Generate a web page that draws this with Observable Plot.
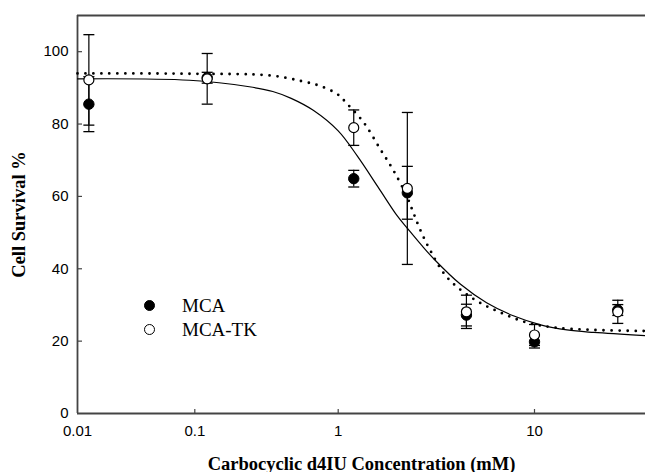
<!DOCTYPE html>
<html>
<head>
<meta charset="utf-8">
<script src="https://cdn.jsdelivr.net/npm/d3@7"></script>
<script src="https://cdn.jsdelivr.net/npm/@observablehq/plot@0.6"></script>
<style>
  html, body { margin: 0; padding: 0; background: #fff; }
  #wrap { position: relative; width: 645px; height: 472px; overflow: hidden; }
  .leg { position: absolute; font-family: "Liberation Serif", "Times New Roman", serif; font-size: 19px; color: #000; line-height: 1; }
  .sw { position: absolute; width: 11px; height: 11px; border-radius: 50%; box-sizing: border-box; border: 1.2px solid #000; }
</style>
</head>
<body>
<div id="wrap"></div>
<script>
// Concentrations (mM) of the measured points
const conc = [0.0125, 0.122, 1.2, 2.25, 4.5, 10, 28.3];
// MCA (filled circles)
const mcaY = [85.5, 92.8, 64.9, 61.0, 27.2, 19.8, 28.6];
const mcaErr = [7.6, 1.5, 2.3, 7.3, 3.0, 1.7, 1.5];
// MCA-TK (open circles)
const tkY = [92.2, 92.5, 79.0, 62.2, 28.1, 21.7, 28.1];
const tkErr = [12.5, 7.0, 4.9, 21.0, 4.6, 2.9, 3.2];
// Fitted curves
const solidX = [0.01, 0.09, 0.24, 0.35, 0.47, 0.67, 1.0, 1.25, 1.6, 2.0, 2.25, 2.65, 3.1, 4.2, 5.7, 7.8, 10.8, 15, 21, 40];
const solidY = [92.5, 92.1, 90.3, 89.0, 87.1, 83.8, 78.1, 71.2, 62.5, 54.6, 51.2, 46.6, 42.5, 35.7, 30.6, 27.0, 24.5, 23.1, 22.4, 21.5];
const dotX = [0.01, 0.09, 0.34, 0.55, 0.75, 0.99, 1.11, 1.35, 1.64, 1.92, 2.25, 2.43, 2.63, 2.95, 3.59, 4.91, 6.71, 9.18, 12.7, 21, 40];
const dotY = [94.0, 93.9, 93.4, 91.9, 90.5, 88.2, 85.6, 80.4, 73.0, 67.0, 59.7, 55.1, 50.5, 45.0, 37.6, 31.6, 27.9, 25.1, 23.8, 23.1, 22.8];
// Axis ticks
const xTicks = [0.01, 0.1, 1, 10];
const xTickLabels = ["0.01", "0.1", "1", "10"];
const yTicks = [0, 20, 40, 60, 80, 100];
const seriesNames = ["MCA", "MCA-TK"];
const xTitle = "Carbocyclic d4IU Concentration (mM)";
const yTitle = "Cell Survival %";

const mca = conc.map((c, i) => ({x: c, y: mcaY[i], lo: mcaY[i] - mcaErr[i], hi: mcaY[i] + mcaErr[i]}));
const tk = conc.map((c, i) => ({x: c, y: tkY[i], lo: tkY[i] - tkErr[i], hi: tkY[i] + tkErr[i]}));
const solid = solidX.map((x, i) => ({x, y: solidY[i]}));
const dotted = dotX.map((x, i) => ({x, y: dotY[i]}));
const bars = [...mca, ...tk];
const caps = bars.flatMap(d => [{x: d.x, y: d.lo}, {x: d.x, y: d.hi}]);
const xTickRows = xTicks.map((v, i) => ({x: v, label: xTickLabels[i]}));

const capSymbol = {draw(ctx) { ctx.moveTo(-5.5, 0); ctx.lineTo(5.5, 0); }};
const yTickSymbol = {draw(ctx) { ctx.moveTo(0, 0); ctx.lineTo(4.5, 0); }};
const xTickSymbol = {draw(ctx) { ctx.moveTo(0, 0); ctx.lineTo(0, -4.5); }};

const axisColor = "#444";
const serif = "'Liberation Serif', 'Times New Roman', serif";
const sans = "'Liberation Sans', Arial, sans-serif";

const chart = Plot.plot({
  width: 645,
  height: 472,
  marginLeft: 77,
  marginRight: 0,
  marginTop: 15,
  marginBottom: 59,
  style: {fontFamily: sans, fontSize: "15px", color: "#000", background: "#fff"},
  x: {type: "log", domain: [0.01, 0.1, 1, 10, 40], range: [77, 194.3, 337.7, 534, 645], axis: null},
  y: {domain: [0, 110]},
  marks: [
    Plot.axisY({ticks: yTicks, tickSize: 0, tickPadding: 9, label: null}),
    Plot.text(xTickRows, {x: "x", y: 0, text: "label", dy: 12, lineAnchor: "top", fontFamily: sans, fontSize: 15, fill: "#000"}),
    Plot.ruleY([0, 110], {stroke: axisColor, strokeWidth: 1.8}),
    Plot.ruleX([0.01], {stroke: axisColor, strokeWidth: 1.8}),
    Plot.dot(xTicks.slice(1), {x: d => d, y: 0, symbol: xTickSymbol, r: 3, stroke: axisColor, strokeWidth: 1.2, fill: "none"}),
    Plot.dot(yTicks.slice(1), {x: 0.01, y: d => d, symbol: yTickSymbol, r: 3, stroke: axisColor, strokeWidth: 1.2, fill: "none"}),
    Plot.line(solid, {x: "x", y: "y", curve: "catmull-rom", stroke: "#000", strokeWidth: 1.2}),
    Plot.line(dotted, {x: "x", y: "y", curve: "catmull-rom", stroke: "#000", strokeWidth: 2.8, strokeDasharray: "0,8", strokeLinecap: "round"}),
    Plot.ruleX(bars, {x: "x", y1: "lo", y2: "hi", stroke: "#000", strokeWidth: 1.2}),
    Plot.dot(caps, {x: "x", y: "y", symbol: capSymbol, r: 3, stroke: "#000", strokeWidth: 1.3, fill: "none"}),
    Plot.dot(mca, {x: "x", y: "y", r: 5.2, fill: "#000", stroke: "#000", strokeWidth: 1}),
    Plot.dot(tk, {x: "x", y: "y", r: 5, fill: "#fff", stroke: "#000", strokeWidth: 1.2}),
    Plot.text([xTitle], {text: d => d, frameAnchor: "bottom", dy: 56, lineAnchor: "bottom", fontFamily: serif, fontWeight: "bold", fontSize: 18.5, fill: "#000"}),
    Plot.text([yTitle], {text: d => d, frameAnchor: "left", dx: -53, rotate: -90, lineAnchor: "bottom", textAnchor: "middle", fontFamily: serif, fontWeight: "bold", fontSize: 18.5, fill: "#000"})
  ]
});

const wrap = document.getElementById("wrap");
wrap.appendChild(chart);

// Legend
const legendItems = [
  {name: seriesNames[0], fill: "#000", cy: 305.2, base: 311.7},
  {name: seriesNames[1], fill: "#fff", cy: 329.2, base: 335.8}
];
for (const it of legendItems) {
  const sw = document.createElement("div");
  sw.className = "sw";
  sw.style.left = (149.7 - 5.5) + "px";
  sw.style.top = (it.cy - 5.5) + "px";
  sw.style.background = it.fill;
  wrap.appendChild(sw);
  const t = document.createElement("div");
  t.className = "leg";
  t.textContent = it.name;
  t.style.left = "182px";
  t.style.top = (it.base - 15.5) + "px";
  wrap.appendChild(t);
}
</script>
</body>
</html>
